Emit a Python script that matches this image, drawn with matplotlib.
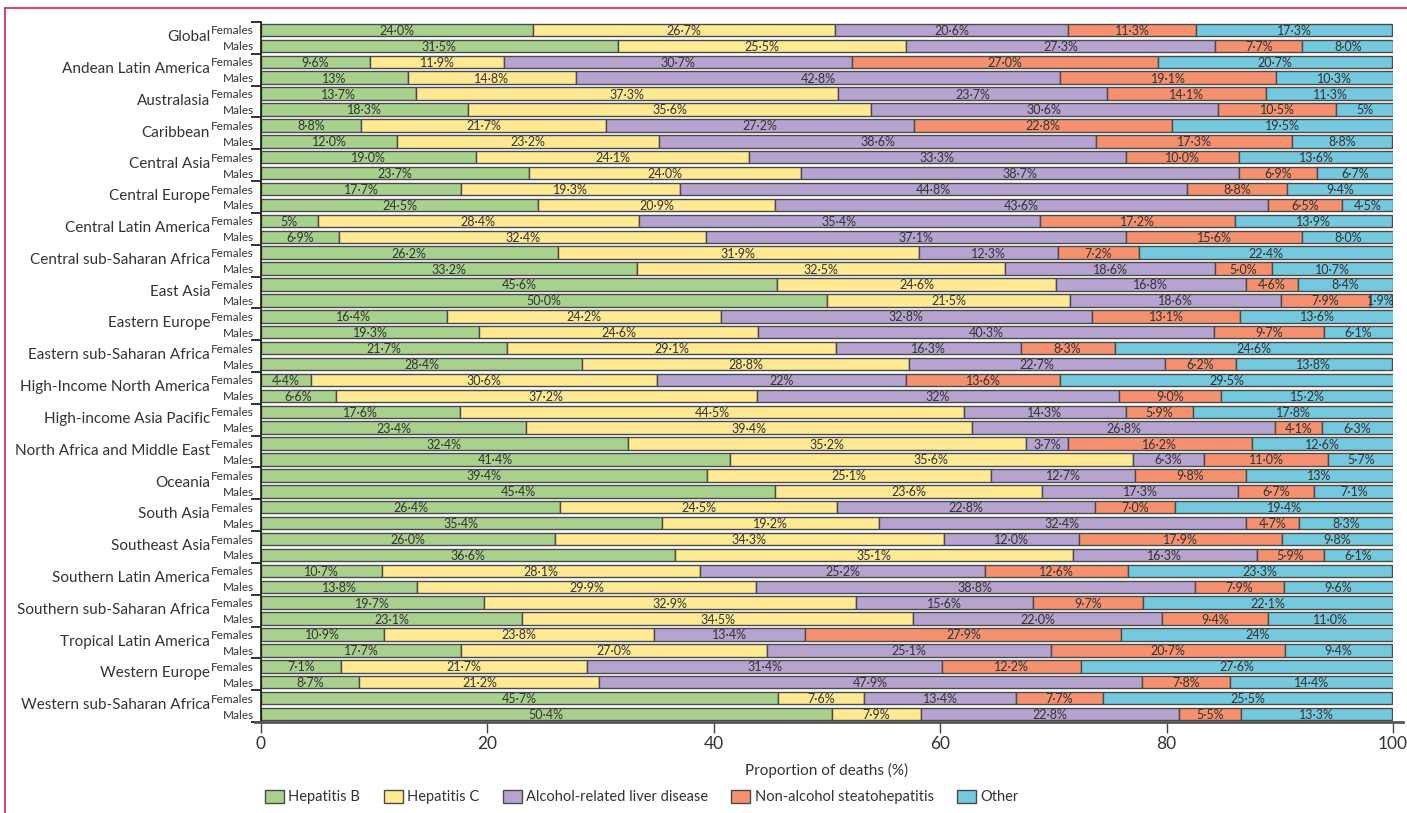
import matplotlib
matplotlib.use("Agg")
import matplotlib.pyplot as plt
from matplotlib.patches import Patch
from matplotlib.lines import Line2D
import matplotlib.transforms as mtransforms
import numpy as np

plt.rcParams['font.family'] = ['Lato', 'DejaVu Sans']

regions = ["Global", "Andean Latin America", "Australasia", "Caribbean", "Central Asia",
           "Central Europe", "Central Latin America", "Central sub-Saharan Africa",
           "East Asia", "Eastern Europe", "Eastern sub-Saharan Africa",
           "High-Income North America", "High-income Asia Pacific",
           "North Africa and Middle East", "Oceania", "South Asia", "Southeast Asia",
           "Southern Latin America", "Southern sub-Saharan Africa",
           "Tropical Latin America", "Western Europe", "Western sub-Saharan Africa"]
sexes = ["Females", "Males"]

# values per bar, region by region (Females then Males), as printed in the figure
hep_b = ["24.0", "31.5", "9.6", "13", "13.7", "18.3", "8.8", "12.0", "19.0", "23.7",
         "17.7", "24.5", "5", "6.9", "26.2", "33.2", "45.6", "50.0", "16.4", "19.3",
         "21.7", "28.4", "4.4", "6.6", "17.6", "23.4", "32.4", "41.4", "39.4", "45.4",
         "26.4", "35.4", "26.0", "36.6", "10.7", "13.8", "19.7", "23.1", "10.9", "17.7",
         "7.1", "8.7", "45.7", "50.4"]
hep_c = ["26.7", "25.5", "11.9", "14.8", "37.3", "35.6", "21.7", "23.2", "24.1", "24.0",
         "19.3", "20.9", "28.4", "32.4", "31.9", "32.5", "24.6", "21.5", "24.2", "24.6",
         "29.1", "28.8", "30.6", "37.2", "44.5", "39.4", "35.2", "35.6", "25.1", "23.6",
         "24.5", "19.2", "34.3", "35.1", "28.1", "29.9", "32.9", "34.5", "23.8", "27.0",
         "21.7", "21.2", "7.6", "7.9"]
alcohol = ["20.6", "27.3", "30.7", "42.8", "23.7", "30.6", "27.2", "38.6", "33.3", "38.7",
           "44.8", "43.6", "35.4", "37.1", "12.3", "18.6", "16.8", "18.6", "32.8", "40.3",
           "16.3", "22.7", "22", "32", "14.3", "26.8", "3.7", "6.3", "12.7", "17.3",
           "22.8", "32.4", "12.0", "16.3", "25.2", "38.8", "15.6", "22.0", "13.4", "25.1",
           "31.4", "47.9", "13.4", "22.8"]
nash = ["11.3", "7.7", "27.0", "19.1", "14.1", "10.5", "22.8", "17.3", "10.0", "6.9",
        "8.8", "6.5", "17.2", "15.6", "7.2", "5.0", "4.6", "7.9", "13.1", "9.7",
        "8.3", "6.2", "13.6", "9.0", "5.9", "4.1", "16.2", "11.0", "9.8", "6.7",
        "7.0", "4.7", "17.9", "5.9", "12.6", "7.9", "9.7", "9.4", "27.9", "20.7",
        "12.2", "7.8", "7.7", "5.5"]
other = ["17.3", "8.0", "20.7", "10.3", "11.3", "5", "19.5", "8.8", "13.6", "6.7",
         "9.4", "4.5", "13.9", "8.0", "22.4", "10.7", "8.4", "1.9", "13.6", "6.1",
         "24.6", "13.8", "29.5", "15.2", "17.8", "6.3", "12.6", "5.7", "13", "7.1",
         "19.4", "8.3", "9.8", "6.1", "23.3", "9.6", "22.1", "11.0", "24", "9.4",
         "27.6", "14.4", "25.5", "13.3"]

series = [hep_b, hep_c, alcohol, nash, other]
names = ["Hepatitis B", "Hepatitis C", "Alcohol-related liver disease",
         "Non-alcohol steatohepatitis", "Other"]
colors = ["#a9d18e", "#ffe992", "#b7a3cf", "#f5916f", "#74c9df"]

fig = plt.figure(figsize=(14.07, 8.13), dpi=100)
ax = fig.add_axes([261 / 1407, 1 - 722 / 813, 1132 / 1407, 700 / 813])

n = len(hep_b)
y = np.arange(n)
left = np.zeros(n)
for vals, name, col in zip(series, names, colors):
    w = np.array([float(v) for v in vals])
    ax.barh(y, w, left=left, height=0.78, color=col, edgecolor="#4a4a4a",
            linewidth=1.0, label=name)
    for yi, (l, wi, s) in enumerate(zip(left, w, vals)):
        ax.text(l + wi / 2, yi + 0.06, s.replace(".", "\u00b7") + "%",
                ha="center", va="center", fontsize=9, color="#333333")
    left = left + w

ax.set_xlim(0, 100)
ax.set_ylim(n - 0.5, -0.5)

ax.set_yticks(y)
ax.set_yticklabels(sexes * len(regions), fontsize=8.5, color="#333333")
ax.tick_params(axis="y", which="major", length=0, pad=5)
ax.set_yticks(np.arange(-0.5, n, 2), minor=True)
ax.tick_params(axis="y", which="minor", length=7, width=1.3, color="#222222")

ax.set_xticks([0, 20, 40, 60, 80, 100])
ax.tick_params(axis="x", length=8, width=1.0, color="#444444", labelsize=12.5,
               labelcolor="#333333", pad=2)
ax.set_xlabel("Proportion of deaths (%)", fontsize=11, color="#333333", labelpad=8)

for s in ["top", "right"]:
    ax.spines[s].set_visible(False)
ax.spines["left"].set_color("#222222")
ax.spines["left"].set_linewidth(1.3)
ax.spines["bottom"].set_color("#555555")
ax.spines["bottom"].set_linewidth(2.0)
ax.spines["bottom"].set_bounds(-0.5, 100.9)

trans = mtransforms.blended_transform_factory(ax.transAxes, ax.transData)
for g, reg in enumerate(regions):
    ax.text(-0.045, 2 * g + 0.45, reg, transform=trans, ha="right", va="center",
            fontsize=11, color="#333333")

handles = [Patch(facecolor=c, edgecolor="#4a4a4a", linewidth=1.0, label=nm)
           for c, nm in zip(colors, names)]
fig.legend(handles=handles, loc="center left", bbox_to_anchor=(252 / 1407, 1 - 797 / 813),
           ncol=5, frameon=False, fontsize=10.5, handlelength=1.3, handleheight=1.0,
           handletextpad=0.3, columnspacing=1.6, labelcolor="#333333")

# journal frame lines
fig.add_artist(Line2D([5 / 1407, 1], [1 - 8 / 813, 1 - 8 / 813], color="#d0346a",
                      linewidth=1.3, transform=fig.transFigure))
fig.add_artist(Line2D([5 / 1407, 5 / 1407], [1 - 8 / 813, 0], color="#d0346a",
                      linewidth=1.3, transform=fig.transFigure))

fig.savefig("out.png", dpi=100)
